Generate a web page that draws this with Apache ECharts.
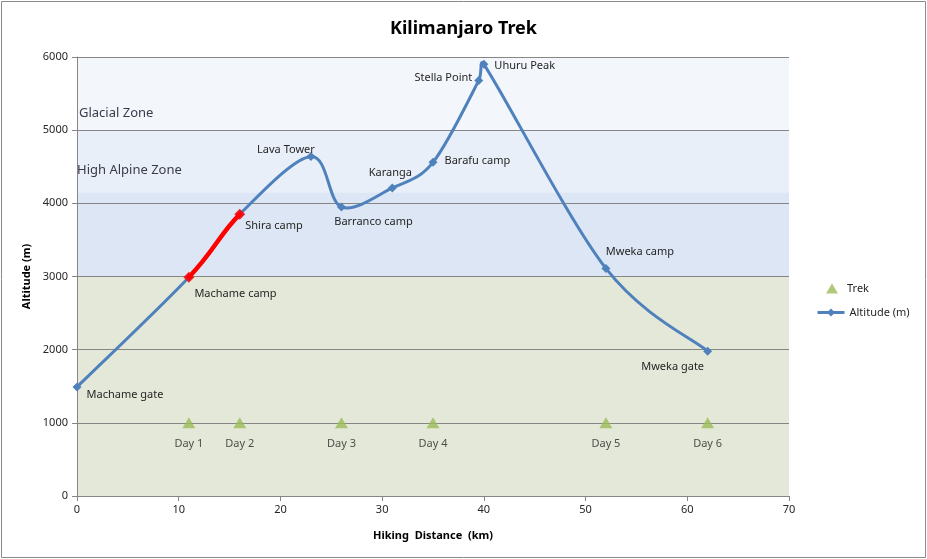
<!DOCTYPE html>
<html>
<head>
<meta charset="utf-8">
<script src="https://cdn.jsdelivr.net/npm/echarts@6/dist/echarts.min.js"></script>
<style>html,body{margin:0;padding:0;background:#fff}#c{width:927px;height:559px}</style>
</head>
<body>
<div id="c"></div>
<script>
// ---- data ----
var campNames = ['Machame gate','Machame camp','Shira camp','Lava Tower','Barranco camp','Karanga','Barafu camp','Stella Point','Uhuru Peak','Mweka camp','Mweka gate'];
var campDistance = [0, 11, 16, 23, 26, 31, 35, 39.5, 40, 52, 62];
var campAltitude = [1490, 2990, 3850, 4640, 3950, 4210, 4560, 5680, 5900, 3110, 1980];
var highlightIdx = [1, 2];
var dayNames = ['Day 1','Day 2','Day 3','Day 4','Day 5','Day 6'];
var dayDistance = [11, 16, 26, 35, 52, 62];
var dayAltitude = [1000, 1000, 1000, 1000, 1000, 1000];
var zoneBounds = [0, 3000, 4150, 5000, 6000];
var zoneNames = ['', '', 'High Alpine Zone', 'Glacial Zone'];

// ---- styles ----
var FONT = '"Noto Sans", "Open Sans", sans-serif';
var TXT = '#262626';
var BLUE = '#4F81BD';
var zoneColors = ['#E4E8D8', '#DCE6F4', '#E9EFF8', '#F3F6FB'];
var labelPos = {
  'Machame gate': ['right', 0, 8],
  'Machame camp': ['right', -4, 17],
  'Shira camp': ['right', -4, 12],
  'Lava Tower': ['top', -25, 8],
  'Barranco camp': ['bottom', 32, 0],
  'Karanga': ['top', -2, 0],
  'Barafu camp': ['right', 2, -2],
  'Stella Point': ['left', 3, -3],
  'Uhuru Peak': ['right', 1, 2],
  'Mweka camp': ['top', 34, -2],
  'Mweka gate': ['bottom', -35, 1]
};

var points = campDistance.map(function (d, i) { return [d, campAltitude[i]]; });
var altData = campNames.map(function (n, i) {
  var p = labelPos[n];
  return {
    value: points[i], name: n,
    label: { show: true, position: p[0], offset: [p[1], p[2]], formatter: n }
  };
});
var redData = highlightIdx.map(function (i) { return points[i]; });
var dayData = dayNames.map(function (n, i) { return { value: [dayDistance[i], dayAltitude[i]], name: n }; });

var areas = [];
for (var i = 0; i < zoneColors.length; i++) {
  var lab = zoneNames[i];
  areas.push([
    { yAxis: zoneBounds[i], itemStyle: { color: zoneColors[i] },
      label: { show: !!lab, formatter: lab, position: i === 3 ? 'insideBottomLeft' : 'insideLeft',
        distance: 0, offset: i === 3 ? [2, -10] : [0, 9], color: '#3a3a4a', fontSize: 13, fontFamily: FONT } },
    { yAxis: zoneBounds[i + 1] }
  ]);
}

// Excel-like smoothed segment i -> i+1 (bezier through library coords)
function segmentShape(api, i) {
  var n = points.length;
  var c = function (k) { return api.coord(points[Math.max(0, Math.min(n - 1, k))]); };
  var p0 = c(i - 1), p1 = c(i), p2 = c(i + 1), p3 = c(i + 2);
  var segLen = Math.hypot(p2[0] - p1[0], p2[1] - p1[1]);
  function tan(a, b) {
    var tx = (b[0] - a[0]) / 6, ty = (b[1] - a[1]) / 6;
    var l = Math.hypot(tx, ty), cap = segLen * 0.5;
    if (l > cap && l > 0) { tx *= cap / l; ty *= cap / l; }
    return [tx, ty];
  }
  var t1 = tan(p0, p2), t2 = tan(p1, p3);
  return { x1: p1[0], y1: p1[1], cpx1: p1[0] + t1[0], cpy1: p1[1] + t1[1],
           cpx2: p2[0] - t2[0], cpy2: p2[1] - t2[1], x2: p2[0], y2: p2[1] };
}
function curveRenderer(color, width, onlyHighlight) {
  return function (params, api) {
    var i = params.dataIndex;
    if (i >= points.length - 1) return null;
    if (onlyHighlight && !(highlightIdx.indexOf(i) >= 0 && highlightIdx.indexOf(i + 1) >= 0)) return null;
    return { type: 'bezierCurve', shape: segmentShape(api, i),
      style: { stroke: color, lineWidth: width, fill: null, lineCap: 'round', lineJoin: 'round' } };
  };
}

var chart = echarts.init(document.getElementById('c'), null, { renderer: 'canvas' });
chart.setOption({
  animation: false,
  backgroundColor: '#fff',
  textStyle: { fontFamily: FONT, color: TXT },
  title: {
    text: 'Kilimanjaro Trek', left: 'center', top: 15,
    textStyle: { fontFamily: FONT, fontSize: 18, fontWeight: 'bold', color: '#000' }
  },
  graphic: [{
    type: 'rect', silent: true, z: 100,
    shape: { x: 1.5, y: 1.5, width: 924, height: 556 },
    style: { fill: 'none', stroke: '#8a8a8a', lineWidth: 1 }
  }],
  legend: [{
    orient: 'vertical', left: 826, top: 283, padding: 0, itemWidth: 12, itemHeight: 10,
    textStyle: { fontFamily: FONT, fontSize: 11, color: TXT, padding: [0, 0, 0, 4] },
    data: [{ name: 'Trek', icon: 'triangle', itemStyle: { color: '#9BBB59' } }]
  }, {
    orient: 'vertical', left: 816, top: 307, padding: 0, itemWidth: 27, itemHeight: 10,
    textStyle: { fontFamily: FONT, fontSize: 11, color: TXT },
    data: [{ name: 'Altitude (m)', lineStyle: { color: BLUE, width: 3, opacity: 1 }, itemStyle: { color: BLUE } }]
  }],
  grid: { left: 77, right: 138, top: 57, bottom: 63, containLabel: false },
  xAxis: {
    type: 'value', min: 0, max: 70, interval: 10, z: 1.5,
    name: 'Hiking  Distance  (km)', nameLocation: 'middle', nameGap: 34,
    nameTextStyle: { fontFamily: FONT, fontSize: 11, fontWeight: 'bold', color: '#000' },
    axisLine: { lineStyle: { color: '#868686' } },
    axisTick: { show: true, length: 5, inside: false, lineStyle: { color: '#868686' } },
    axisLabel: { fontSize: 11, color: TXT, margin: 8, fontFamily: FONT },
    splitLine: { show: false }
  },
  yAxis: {
    type: 'value', min: 0, max: 6000, interval: 1000, z: 1.5,
    name: 'Altitude (m)', nameLocation: 'middle', nameGap: 44, nameRotate: 90,
    nameTextStyle: { fontFamily: FONT, fontSize: 11, fontWeight: 'bold', color: '#000' },
    axisLine: { show: true, lineStyle: { color: '#868686' } },
    axisTick: { show: true, length: 5, lineStyle: { color: '#868686' } },
    axisLabel: { fontSize: 11, color: TXT, margin: 9, fontFamily: FONT, formatter: function (v) { return String(v); } },
    splitLine: { show: true, lineStyle: { color: '#868686', width: 1 } }
  },
  series: [
    {
      name: 'bands', type: 'line', data: [], silent: true,
      markArea: { silent: true, z: 1, data: areas }
    },
    {
      name: 'Trek', type: 'scatter', data: dayData, z: 3,
      symbol: 'triangle', symbolSize: [13, 11],
      itemStyle: { color: '#9BBB59' },
      label: { show: true, position: 'bottom', distance: 10, formatter: '{b}', fontSize: 11, color: TXT, fontFamily: FONT }
    },
    {
      name: 'curve', type: 'custom', data: points, z: 3, silent: true,
      encode: { x: 0, y: 1 },
      renderItem: curveRenderer(BLUE, 3, false)
    },
    {
      name: 'Altitude (m)', type: 'line', data: altData, z: 4,
      symbol: 'diamond', symbolSize: 9,
      lineStyle: { color: BLUE, width: 3, opacity: 0 },
      itemStyle: { color: BLUE },
      label: { fontSize: 11, color: TXT, fontFamily: FONT, distance: 5 }
    },
    {
      name: 'highlightCurve', type: 'custom', data: points, z: 5, silent: true,
      encode: { x: 0, y: 1 },
      renderItem: curveRenderer('#FF0000', 4.5, true)
    },
    {
      name: 'highlight', type: 'scatter', data: redData, z: 6,
      symbol: 'diamond', symbolSize: 11,
      itemStyle: { color: '#FF0000' }
    }
  ]
});
</script>
</body>
</html>
